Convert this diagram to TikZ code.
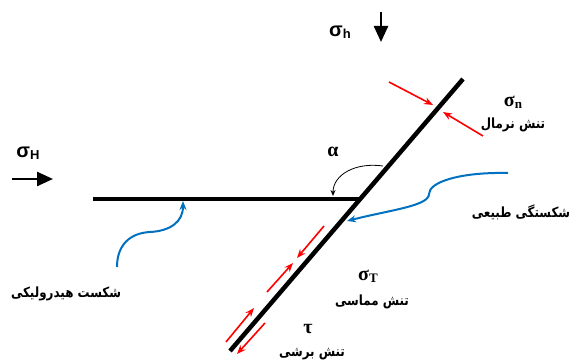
\documentclass[tikz,border=0pt]{standalone}
\usepackage{fontspec}
\setmainfont{Liberation Serif}
\newfontfamily\arsans{Liberation Sans}
\newfontfamily\fa[Script=Arabic,FakeStretch=0.85]{DejaVu Sans Bold}
\TeXXeTstate=1
\usetikzlibrary{arrows.meta}
\tikzset{
  fault/.style={line width=4.5pt},
  farrow/.style={line width=2.4pt,-{Triangle[length=16pt,width=14pt]}},
  redarr/.style={red,line width=1.6pt,-{Stealth[length=9pt,width=7pt]}},
  bluearr/.style={draw={rgb,255:red,0;green,112;blue,192},line width=2pt,-{Stealth[length=9pt,width=7pt]}},
  faLabel/.style={font=\fa\fontsize{14}{16}\selectfont},
  greek/.style={font=\bfseries\fontsize{20}{22}\selectfont},
  greeksans/.style={font=\arsans\bfseries\fontsize{20}{22}\selectfont}
}
\begin{document}
\begin{tikzpicture}[x=1pt,y=-1pt]
\useasboundingbox (0,0) rectangle (571,363);
% fractures
\coordinate (dlow) at (230,351);
\coordinate (dup) at (463,79);
\coordinate (hl) at (93,199);
\coordinate (hr) at (360,199);
\draw[fault] (dlow) -- (dup);
\draw[fault] (hl) -- (hr);
% far-field stresses
\coordinate (ah1) at (381,12);
\coordinate (ah2) at (381,42);
\draw[farrow] (ah1) -- (ah2);
\node[greeksans] (sh) at (340,32) {σ\raisebox{-2pt}{\fontsize{13}{14}\selectfont h}};
\coordinate (aH1) at (12,179);
\coordinate (aH2) at (53,179);
\draw[farrow] (aH1) -- (aH2);
\node[greeksans] (sH) at (28,153) {σ\raisebox{-2pt}{\fontsize{13}{14}\selectfont H}};
% alpha
\node[greek] (alpha) at (333,152) {α};
\coordinate (al1) at (383,166);
\coordinate (al2) at (333,196);
\draw[line width=0.8pt,-{Stealth[length=6pt,width=5pt]}] (al1) .. controls (355,162) and (333,175) .. (al2);
% normal stress
\coordinate (n1) at (389,82);
\coordinate (n2) at (433,105);
\coordinate (n3) at (483,136);
\coordinate (n4) at (443,112);
\draw[redarr] (n1) -- (n2);
\draw[redarr] (n3) -- (n4);
\node[greek] (sn) at (513,102) {σ\raisebox{-2pt}{\fontsize{13}{14}\selectfont n}};
\node[faLabel] (tn) at (513,125) {\beginR تنش نرمال\endR};
% natural fracture
\coordinate (b1) at (508,173);
\coordinate (b2) at (347,221);
\draw[bluearr] (b1) .. controls (460,172) and (429,182) .. (429,194) .. controls (429,206) and (390,210) .. (b2);
\node[faLabel] (nf) at (521,212) {\beginR شکستگی طبیعی\endR};
% hydraulic fracture
\coordinate (c1) at (117,267);
\coordinate (c2) at (183,201);
\draw[bluearr] (c1) .. controls (117,245) and (130,233) .. (150,232) .. controls (170,231) and (183,222) .. (c2);
\node[faLabel] (hf) at (66,294) {\beginR شکست هیدرولیکی\endR};
% shear stresses
\coordinate (r1a) at (324,226);
\coordinate (r1b) at (297,258);
\coordinate (r2a) at (267,292);
\coordinate (r2b) at (293,263);
\coordinate (r3a) at (226,342);
\coordinate (r3b) at (254,308);
\coordinate (r4a) at (265,323);
\coordinate (r4b) at (237,354);
\draw[redarr] (r1a) -- (r1b);
\draw[redarr] (r2a) -- (r2b);
\draw[redarr] (r3a) -- (r3b);
\draw[redarr] (r4a) -- (r4b);
\node[greek] (sT) at (368,276) {σ\raisebox{-2pt}{\fontsize{13}{14}\selectfont T}};
\node[faLabel] (tm) at (372,302) {\beginR تنش مماسی\endR};
\node[greek] (tau) at (308,329) {τ};
\node[faLabel] (tb) at (312,354) {\beginR تنش برشی\endR};
\end{tikzpicture}
\end{document}
